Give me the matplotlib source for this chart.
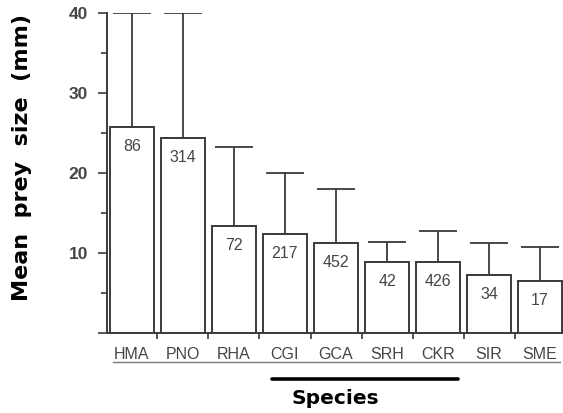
import matplotlib
matplotlib.use("Agg")
import matplotlib.pyplot as plt
import numpy as np
from matplotlib.transforms import blended_transform_factory

species = ["HMA", "PNO", "RHA", "CGI", "GCA", "SRH", "CKR", "SIR", "SME"]
mean_size = [25.7, 24.4, 13.4, 12.4, 11.2, 8.9, 8.9, 7.2, 6.5]
sd_size = [14.3, 15.6, 9.8, 7.6, 6.8, 2.5, 3.85, 4.1, 4.3]
n_prey = [86, 314, 72, 217, 452, 42, 426, 34, 17]
yticks_major = [0, 10, 20, 30, 40]
ytick_labels = ["", "10", "20", "30", "40"]
yticks_minor = [5, 15, 25, 35]

edge = "#3a3a3a"
txt = "#454545"

fig = plt.figure(figsize=(5.63, 4.13), dpi=100)
ax = fig.add_axes([0.190, 0.1937, 0.810, 0.7748])

x = np.arange(len(species))
ax.bar(x, mean_size, width=0.86, color="white", edgecolor=edge, linewidth=1.4, zorder=2)
ax.errorbar(x, mean_size, yerr=[np.zeros(len(x)), sd_size], fmt="none",
            ecolor=edge, elinewidth=1.3, capsize=13.5, capthick=1.3, zorder=1)

for xi, m, n in zip(x, mean_size, n_prey):
    ax.annotate(str(n), (xi, m), xytext=(0, -14), textcoords="offset points",
                ha="center", va="center", fontsize=11.5, color=txt,
                family="Liberation Sans", zorder=3)

ax.set_xlim(-0.49, 8.45)
ax.set_ylim(0, 40)
ax.spines["top"].set_visible(False)
ax.spines["right"].set_visible(False)
for s in ("left", "bottom"):
    ax.spines[s].set_color(edge)
    ax.spines[s].set_linewidth(1.4)

ax.set_yticks(yticks_major)
ax.set_yticklabels(ytick_labels)
ax.set_yticks(yticks_minor, minor=True)
ax.tick_params(axis="y", which="major", length=6.5, width=1.2, color=edge,
               labelsize=12.5, labelcolor=txt, pad=7)
ax.tick_params(axis="y", which="minor", length=4.5, width=1.2, color=edge)
for lab in ax.get_yticklabels():
    lab.set_family("Liberation Sans")
    lab.set_fontweight("bold")

# boundary ticks on x, labels at centres
ax.set_xticks(x[:-1] + 0.5)
ax.set_xticklabels([])
ax.tick_params(axis="x", which="major", length=4, width=1.2, color=edge)
ax.set_xticks(x, minor=True)
ax.set_xticklabels(species, minor=True)
ax.tick_params(axis="x", which="minor", length=0, pad=10, labelsize=11.5, labelcolor=txt)
for lab in ax.get_xticklabels(minor=True):
    lab.set_family("Liberation Sans")

trans = blended_transform_factory(ax.transData, ax.transAxes)
ax.plot([x[0] - 0.37, x[-1] + 0.39], [-0.092, -0.092], transform=trans,
        color="#777777", lw=1.0, clip_on=False)
ax.plot([x[3] - 0.25, x[6] + 0.39], [-0.143, -0.143], transform=trans,
        color="black", lw=2.6, clip_on=False, solid_capstyle="round")

ax.text((335 - 107) / 456, -0.205, "Species", transform=ax.transAxes,
        ha="center", va="center", fontsize=14.5, fontweight="bold", color="black")

fig.text(0.039, 0.619, "Mean  prey  size  (mm)", rotation=90, ha="center", va="center",
         fontsize=16, fontweight="bold", color="black")

fig.savefig("out.png", dpi=100, facecolor="white")
